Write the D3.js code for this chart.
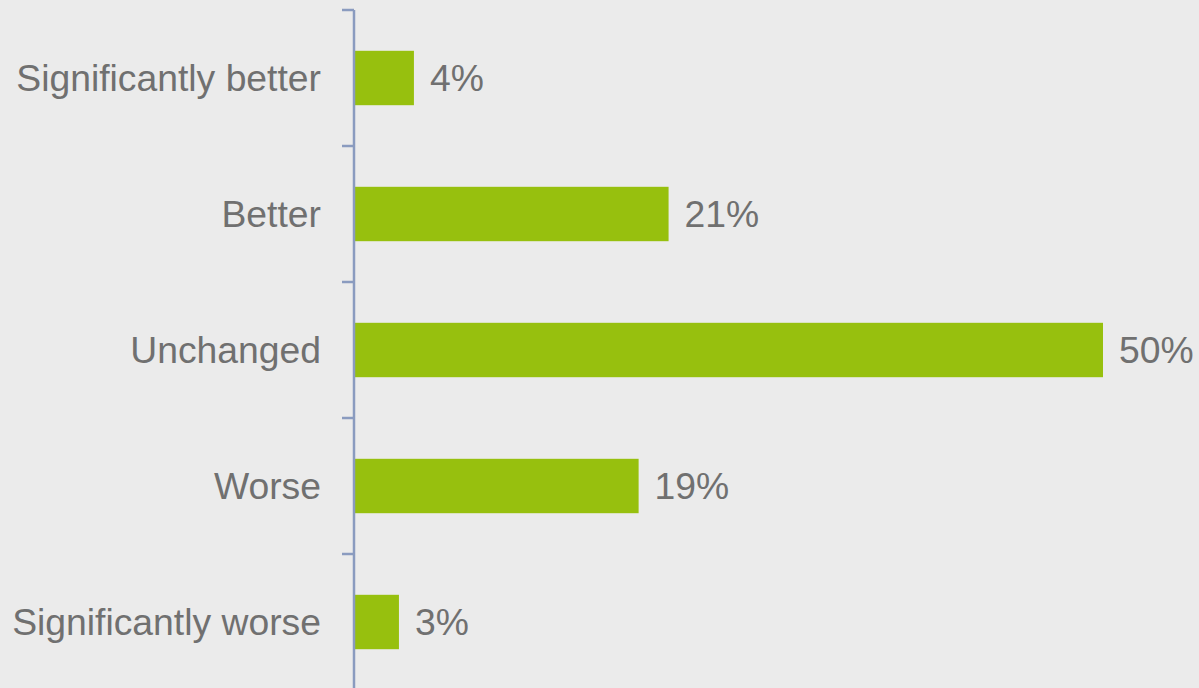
<!DOCTYPE html>
<html>
<head>
<meta charset="utf-8">
<script src="https://cdn.jsdelivr.net/npm/d3@7"></script>
<style>
  html, body { margin: 0; padding: 0; background: #ebebeb; }
  svg { display: block; }
</style>
</head>
<body>
<svg id="chart" width="1199" height="688"></svg>
<script>
// Survey responses: share of respondents per answer
const categories = ["Significantly better", "Better", "Unchanged", "Worse", "Significantly worse"];
const values = [4, 21, 50, 19, 3];

const W = 1199, H = 688;
const FONT = "'Liberation Sans', Arial, sans-serif";
const FONT_SIZE = 37.3;
const svg = d3.select("#chart");
svg.append("rect").attr("width", W).attr("height", H).attr("fill", "#ebebeb");

const x0 = 354;
const x = d3.scaleLinear().domain([0, 50]).range([x0, 1103]);
const y = d3.scaleBand().domain(categories).range([10, 690]).paddingInner(0.6).paddingOuter(0.3);

// Bars
svg.selectAll("rect.bar")
  .data(values)
  .join("rect")
  .attr("class", "bar")
  .attr("x", x(0) + 1)
  .attr("y", (d, i) => y(categories[i]))
  .attr("width", d => x(d) - x(0) - 1)
  .attr("height", y.bandwidth())
  .attr("fill", "#97c00e");

// Value labels
svg.selectAll("text.val")
  .data(values)
  .join("text")
  .attr("class", "val")
  .attr("x", d => x(d) + 16)
  .attr("y", (d, i) => y(categories[i]) + y.bandwidth() / 2)
  .attr("dy", "0.35em")
  .attr("font-family", FONT)
  .attr("font-size", FONT_SIZE)
  .attr("fill", "#707070")
  .text(d => d + "%");

// Category axis with tick marks between bands
const axisG = svg.append("g");
axisG.append("line")
  .attr("x1", x0).attr("x2", x0)
  .attr("y1", 10).attr("y2", H)
  .attr("stroke", "#8a9bbf").attr("stroke-width", 2.5);

const step = y.step();
const tickYs = d3.range(categories.length + 1).map(i => 10 + i * step);
axisG.selectAll("line.tick")
  .data(tickYs)
  .join("line")
  .attr("class", "tick")
  .attr("x1", x0 - 12).attr("x2", x0)
  .attr("y1", d => d).attr("y2", d => d)
  .attr("stroke", "#8a9bbf").attr("stroke-width", 2.5);

axisG.selectAll("text.cat")
  .data(categories)
  .join("text")
  .attr("class", "cat")
  .attr("x", 321)
  .attr("y", d => y(d) + y.bandwidth() / 2)
  .attr("dy", "0.35em")
  .attr("text-anchor", "end")
  .attr("font-family", FONT)
  .attr("font-size", FONT_SIZE)
  .attr("fill", "#707070")
  .text(d => d);
</script>
</body>
</html>
